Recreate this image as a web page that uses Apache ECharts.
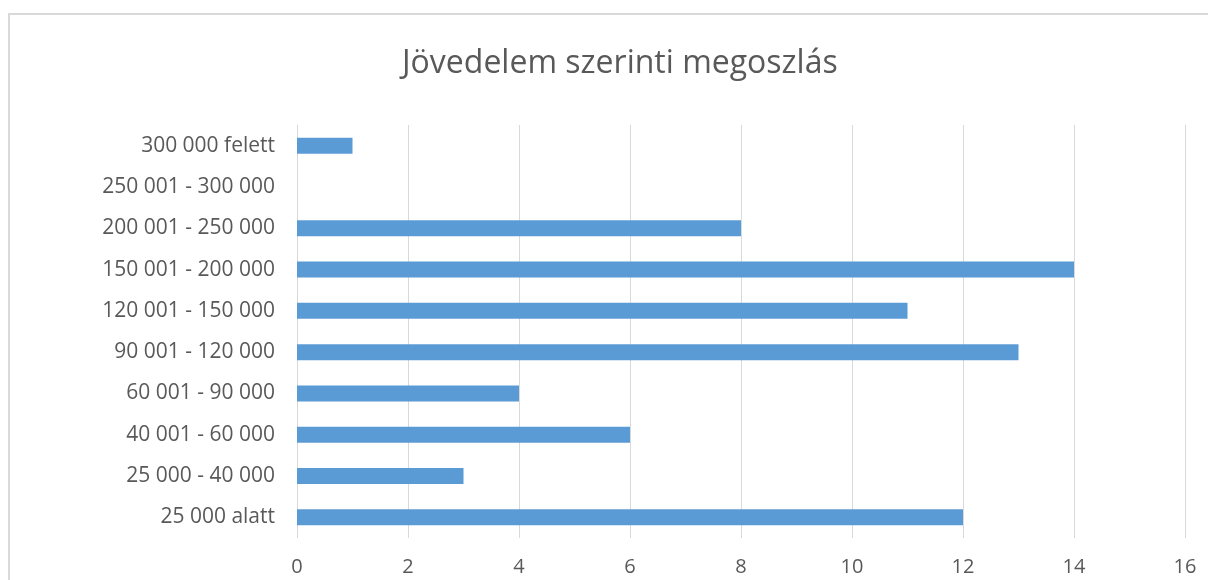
<!DOCTYPE html>
<html>
<head>
<meta charset="utf-8">
<script src="https://cdn.jsdelivr.net/npm/echarts@6/dist/echarts.min.js"></script>
<style>
html,body{margin:0;padding:0;background:#fff;}
#main{width:1208px;height:580px;}
</style>
</head>
<body>
<div id="main"></div>
<script>
var titleText = 'Jövedelem szerinti megoszlás';
var categories = ['300 000 felett','250 001 - 300 000','200 001 - 250 000','150 001 - 200 000','120 001 - 150 000','90 001 - 120 000','60 001 - 90 000','40 001 - 60 000','25 000 - 40 000','25 000 alatt'];
var values = [1, 0, 8, 14, 11, 13, 4, 6, 3, 12];
var xMin = 0, xMax = 16, xStep = 2;

var chart = echarts.init(document.getElementById('main'), null, {renderer:'canvas'});
var FONT = 'Open Sans';
chart.setOption({
  animation:false,
  backgroundColor:'#fff',
  graphic:[{
    type:'rect', silent:true,
    shape:{x:9,y:14,width:1220,height:600},
    style:{fill:null, stroke:'#d9d9d9', lineWidth:2}
  }],
  title:{
    text:titleText, left:397, top:43,
    textStyle:{fontFamily:FONT, fontSize:32, fontWeight:'normal', color:'#595959'}
  },
  grid:{left:297, top:125, width:888, height:413, containLabel:false},
  xAxis:{
    type:'value', min:xMin, max:xMax, interval:xStep,
    axisLine:{show:false}, axisTick:{show:false},
    splitLine:{show:true, lineStyle:{color:'#d9d9d9', width:1}},
    axisLabel:{fontFamily:FONT, fontSize:20, color:'#595959', margin:19}
  },
  yAxis:{
    type:'category', data:categories, inverse:true,
    axisLine:{show:false}, axisTick:{show:false},
    axisLabel:{fontFamily:FONT, fontSize:21, color:'#595959', margin:22}
  },
  series:[{
    type:'bar', data:values, barWidth:16,
    itemStyle:{color:'#5b9bd5'}
  }]
});
</script>
</body>
</html>
